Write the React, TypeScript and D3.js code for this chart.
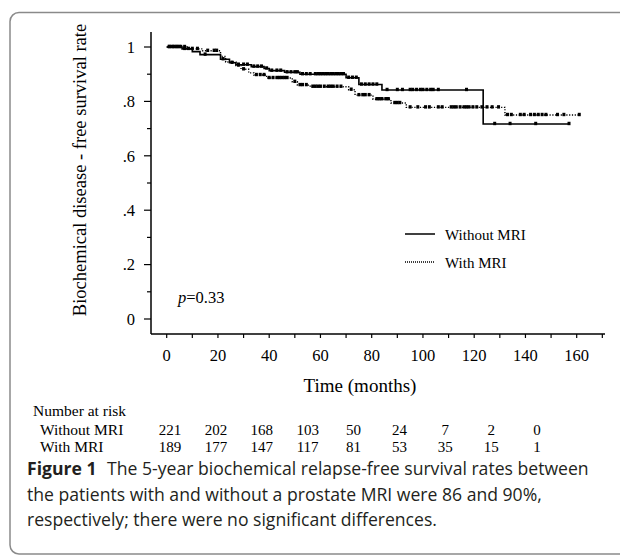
import { useEffect, useRef } from "react";
import * as d3 from "d3";

// survival curve steps (time in months, survival after the drop)
const withoutTimes = [0, 6, 10, 13, 21, 24.5, 27, 33, 38, 40, 46, 52, 70, 75, 84, 123.5];
const withoutSurv = [1, 0.993, 0.983, 0.972, 0.955, 0.942, 0.935, 0.928, 0.921, 0.913, 0.907, 0.9, 0.887, 0.862, 0.842, 0.717];
const withoutEnd = 157;
const withoutCensor = [1, 2, 3, 4, 5, 7, 8.5, 15, 22, 25.5, 28, 30, 31.5, 34, 35.5, 37, 39, 41, 43, 44.5, 47, 48.5, 50, 51,
  53, 54.5, 56, 58, 59, 60, 61, 62, 63, 64, 65, 66, 67, 68, 69, 71, 72.5, 74, 76, 77.5, 79, 80.5, 82,
  86, 90, 92, 95, 96, 97.5, 99, 100, 101.5, 103, 104, 106, 117, 128, 134, 144, 157];

const withTimes = [0, 8, 14, 21, 23, 27, 29, 32, 34, 39, 49, 51, 56, 71, 73.5, 80.5, 87.5, 93.5, 132];
const withSurv = [1, 0.993, 0.986, 0.965, 0.945, 0.932, 0.918, 0.905, 0.897, 0.886, 0.872, 0.86, 0.854, 0.843, 0.823, 0.808, 0.794, 0.778, 0.75];
const withEnd = 161;
const withCensor = [1, 2.5, 4, 5.5, 7, 10, 12, 16, 18.5, 19.5, 28, 30, 35, 36.5, 38, 40, 41.5, 43, 44, 45, 46, 47, 50,
  52, 53, 54.5, 57, 58, 59, 60, 61.5, 63, 64, 65, 66.5, 68, 72, 75, 76.5, 77.5, 79, 82, 83, 84, 85.5, 86.5,
  89, 90, 91, 95, 98, 101, 102.5, 106, 107.5, 111, 112, 113, 114.5, 116, 117, 118, 119.5, 121, 123, 125, 127, 129.5,
  133, 134.5, 138, 139.5, 142, 143.5, 145, 146.5, 148, 152.5, 155, 161];

// number at risk table
const riskTimes = [0, 20, 40, 60, 80, 100, 120, 140, 160];
const riskWithout = [221, 202, 168, 103, 50, 24, 7, 2, 0];
const riskWith = [189, 177, 147, 117, 81, 53, 35, 15, 1];

const yTickLabels = ["0", ".2", ".4", ".6", ".8", "1"];

const captionLines = [
  "The 5-year biochemical relapse-free survival rates between",
  "the patients with and without a prostate MRI were 86 and 90%,",
  "respectively; there were no significant differences.",
];

const SERIF = "'Liberation Serif', 'Times New Roman', serif";
const SANS = "'Open Sans', 'Noto Sans', sans-serif";

export default function App() {
  const svgRef = useRef<SVGSVGElement | null>(null);
  const width = 620;
  const height = 556;

  useEffect(() => {
    if (!svgRef.current) return;
    const svg = d3.select(svgRef.current);
    svg.selectAll("*").remove();

    const x = d3.scaleLinear().domain([0, 160]).range([166.7, 576.7]);
    const y = d3.scaleLinear().domain([0, 1]).range([319, 47]);
    // the risk table columns are packed tighter than the axis
    const xRisk = d3.scalePoint<number>().domain(riskTimes).range([170, 537]);
    const axisX = 151;
    const axisY = 334;

    // frame
    svg.append("rect")
      .attr("x", 10).attr("y", 12.5)
      .attr("width", 700).attr("height", 541.5)
      .attr("rx", 9)
      .attr("fill", "none")
      .attr("stroke", "#8a8a8a")
      .attr("stroke-width", 1.5);

    // y axis
    svg.append("line")
      .attr("x1", axisX).attr("x2", axisX)
      .attr("y1", 32).attr("y2", axisY)
      .attr("stroke", "#000").attr("stroke-width", 1.5);
    d3.range(0, 1.0001, 0.1).forEach((v, i) => {
      const major = i % 2 === 0;
      svg.append("line")
        .attr("x1", axisX - (major ? 7 : 4)).attr("x2", axisX)
        .attr("y1", y(v)).attr("y2", y(v))
        .attr("stroke", "#000").attr("stroke-width", 1.2);
    });
    yTickLabels.forEach((lab, i) => {
      svg.append("text")
        .attr("x", 135).attr("y", y(i * 0.2))
        .attr("dy", "0.35em")
        .attr("text-anchor", "end")
        .attr("font-family", SERIF)
        .attr("font-size", 16.5)
        .text(lab);
    });

    // x axis
    svg.append("line")
      .attr("x1", axisX).attr("x2", 605)
      .attr("y1", axisY).attr("y2", axisY)
      .attr("stroke", "#000").attr("stroke-width", 1.5);
    d3.range(0, 171, 10).forEach((t) => {
      svg.append("line")
        .attr("x1", x(t)).attr("x2", x(t))
        .attr("y1", axisY).attr("y2", axisY + 4)
        .attr("stroke", "#000").attr("stroke-width", 1.2);
    });
    x.ticks(8).forEach((t) => {
      svg.append("text")
        .attr("x", x(t)).attr("y", 360.5)
        .attr("text-anchor", "middle")
        .attr("font-family", SERIF)
        .attr("font-size", 16.5)
        .text(t);
    });

    // axis titles
    svg.append("text")
      .attr("transform", "translate(86,170) rotate(-90)")
      .attr("text-anchor", "middle")
      .attr("font-family", SERIF)
      .attr("font-size", 18.5)
      .text("Biochemical disease - free survival rate");
    svg.append("text")
      .attr("x", 360).attr("y", 392)
      .attr("text-anchor", "middle")
      .attr("font-family", SERIF)
      .attr("font-size", 19)
      .text("Time (months)");

    // curves
    const line = d3.line<[number, number]>()
      .x((d) => x(d[0]))
      .y((d) => y(d[1]))
      .curve(d3.curveStepAfter);

    const drawCurve = (times: number[], surv: number[], end: number, censor: number[], dashed: boolean) => {
      const pts: [number, number][] = times.map((t, i) => [t, surv[i]]);
      pts.push([end, surv[surv.length - 1]]);
      svg.append("path")
        .attr("d", line(pts))
        .attr("fill", "none")
        .attr("stroke", "#000")
        .attr("stroke-width", dashed ? 1.4 : 1.6)
        .attr("stroke-dasharray", dashed ? "1.2,1.6" : null);
      censor.forEach((c) => {
        const idx = d3.bisectRight(times, c) - 1;
        svg.append("rect")
          .attr("x", x(c) - 1.5).attr("y", y(surv[idx]) - 2.2)
          .attr("width", 3).attr("height", 3.4)
          .attr("fill", "#000");
      });
    };
    drawCurve(withoutTimes, withoutSurv, withoutEnd, withoutCensor, false);
    drawCurve(withTimes, withSurv, withEnd, withCensor, true);

    // legend
    svg.append("line")
      .attr("x1", 405).attr("x2", 435).attr("y1", 234).attr("y2", 234)
      .attr("stroke", "#000").attr("stroke-width", 1.5);
    svg.append("text")
      .attr("x", 445).attr("y", 239.5)
      .attr("font-family", SERIF).attr("font-size", 15)
      .text("Without MRI");
    svg.append("line")
      .attr("x1", 405).attr("x2", 435).attr("y1", 262).attr("y2", 262)
      .attr("stroke", "#000").attr("stroke-width", 1.3)
      .attr("stroke-dasharray", "1,1");
    svg.append("text")
      .attr("x", 445).attr("y", 267.5)
      .attr("font-family", SERIF).attr("font-size", 15)
      .text("With MRI");

    // p value
    const p = svg.append("text")
      .attr("x", 178).attr("y", 303)
      .attr("font-family", SERIF).attr("font-size", 16.5);
    p.append("tspan").attr("font-style", "italic").text("p");
    p.append("tspan").text("=0.33");

    // number at risk
    svg.append("text")
      .attr("x", 33).attr("y", 416)
      .attr("font-family", SERIF).attr("font-size", 15.5)
      .text("Number at risk");
    const rows: [string, number[], number][] = [
      ["Without MRI", riskWithout, 434.5],
      ["With MRI", riskWith, 452],
    ];
    rows.forEach(([label, vals, yy]) => {
      svg.append("text")
        .attr("x", 40).attr("y", yy)
        .attr("font-family", SERIF).attr("font-size", 15.5)
        .text(label);
      vals.forEach((v, i) => {
        svg.append("text")
          .attr("x", xRisk(riskTimes[i]) as number).attr("y", yy)
          .attr("text-anchor", "middle")
          .attr("font-family", SERIF).attr("font-size", 15)
          .text(v);
      });
    });

    // caption
    const capY = [475, 500.5, 526];
    captionLines.forEach((txt, i) => {
      const t = svg.append("text")
        .attr("x", 27).attr("y", capY[i])
        .attr("font-family", SANS).attr("font-size", 17.6)
        .attr("fill", "#231f20");
      if (i === 0) {
        t.append("tspan").attr("font-weight", "bold").text("Figure 1");
        t.append("tspan").attr("dx", 6).text(" " + txt);
      } else {
        t.text(txt);
      }
    });
  }, []);

  return (
    <svg
      ref={svgRef}
      width={width}
      height={height}
      style={{ position: "absolute", left: 0, top: 0, background: "#fff" }}
    />
  );
}
